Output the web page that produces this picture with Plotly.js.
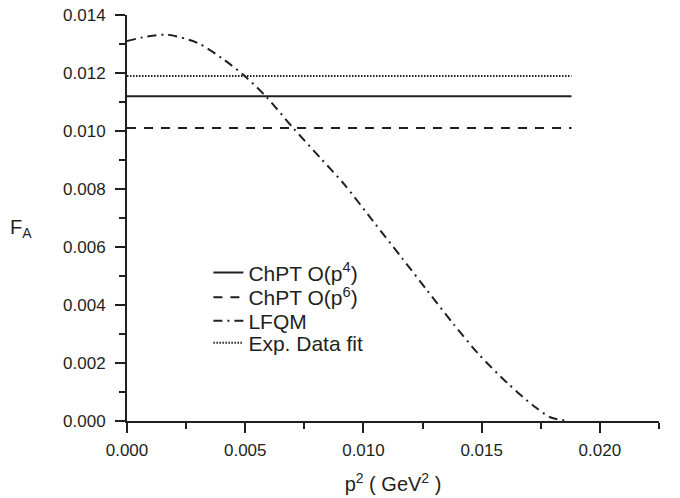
<!DOCTYPE html>
<html>
<head>
<meta charset="utf-8">
<script src="https://cdn.plot.ly/plotly-3.0.1.min.js"></script>
<style>html,body{margin:0;padding:0;background:#fff;}#chart{width:680px;height:498px;}</style>
</head>
<body>
<div id="chart"></div>
<script>
// Data
var flatX = [0, 0.0188];
var chpt4Value = 0.0112;
var chpt6Value = 0.0101;
var expFitValue = 0.0119;

var lfqmX = [0, 0.0008, 0.0017, 0.0030, 0.0041, 0.0050, 0.0059, 0.0070, 0.0082, 0.0092, 0.0104, 0.0116, 0.0127, 0.0138, 0.0149, 0.0161, 0.0172, 0.0179, 0.0187];
var lfqmY = [0.01310, 0.01325, 0.01332, 0.01303, 0.01246, 0.01188, 0.01117, 0.01013, 0.00905, 0.00815, 0.00690, 0.00565, 0.00450, 0.00335, 0.00228, 0.00130, 0.00052, 0.00013, 0.0];

var seriesNames = ["ChPT O(p<sup>4</sup>)", "ChPT O(p<sup>6</sup>)", "LFQM", "Exp. Data fit"];

var ink = "#231f20";
var font = "Liberation Sans, Arial, sans-serif";

var traces = [
  {x: flatX, y: flatX.map(function(){return chpt4Value;}), mode: "lines", name: seriesNames[0],
   legend: "legend", line: {color: ink, width: 2}},
  {x: flatX, y: flatX.map(function(){return chpt6Value;}), mode: "lines", name: seriesNames[1],
   legend: "legend2", line: {color: ink, width: 2, dash: "9px,8px"}},
  {x: lfqmX, y: lfqmY, mode: "lines", name: seriesNames[2],
   legend: "legend3", line: {color: ink, width: 2, dash: "9px,5px,2px,5px", shape: "spline", smoothing: 0.8}},
  {x: flatX, y: flatX.map(function(){return expFitValue;}), mode: "lines", name: seriesNames[3],
   legend: "legend4", line: {color: ink, width: 2, dash: "1.5px,1.5px"}}
];

function legendAt(y) {
  return {x: 0.153, y: y, xanchor: "left", yanchor: "middle", bgcolor: "rgba(0,0,0,0)",
          borderwidth: 0, font: {size: 21, family: font, color: ink}};
}

var layout = {
  width: 680, height: 498,
  margin: {l: 126.5, r: 21, t: 15, b: 77},
  paper_bgcolor: "#fff", plot_bgcolor: "#fff",
  font: {family: font, color: ink, size: 17},
  showlegend: true,
  legend: legendAt(0.365),
  legend2: legendAt(0.304),
  legend3: legendAt(0.246),
  legend4: legendAt(0.192),
  xaxis: {
    range: [0, 0.0225], dtick: 0.005, tick0: 0, tickformat: ".3f",
    showgrid: false, zeroline: false, showline: true, linecolor: ink, linewidth: 2,
    ticks: "outside", ticklen: 10, tickwidth: 2, tickcolor: ink,
    minor: {dtick: 0.0025, ticks: "outside", ticklen: 6, tickwidth: 2, tickcolor: ink, showgrid: false},
    tickfont: {size: 17, family: font, color: ink},
    ticklabelstandoff: 3,
    title: {text: "p<sup>2</sup> ( GeV<sup>2</sup> )", font: {size: 20, family: font, color: ink}, standoff: 18}
  },
  yaxis: {
    range: [0, 0.014], dtick: 0.002, tick0: 0, tickformat: ".3f",
    showgrid: false, zeroline: false, showline: true, linecolor: ink, linewidth: 2,
    ticks: "outside", ticklen: 10, tickwidth: 2, tickcolor: ink,
    minor: {dtick: 0.001, ticks: "outside", ticklen: 6, tickwidth: 2, tickcolor: ink, showgrid: false},
    tickfont: {size: 17, family: font, color: ink},
    ticklabelstandoff: 6
  },
  annotations: [
    {text: "F<sub>A</sub>", xref: "paper", yref: "paper", x: -0.2, y: 0.475,
     xanchor: "center", yanchor: "middle", showarrow: false,
     font: {size: 20, family: font, color: ink}}
  ]
};

Plotly.newPlot("chart", traces, layout, {displayModeBar: false, staticPlot: true});
</script>
</body>
</html>
